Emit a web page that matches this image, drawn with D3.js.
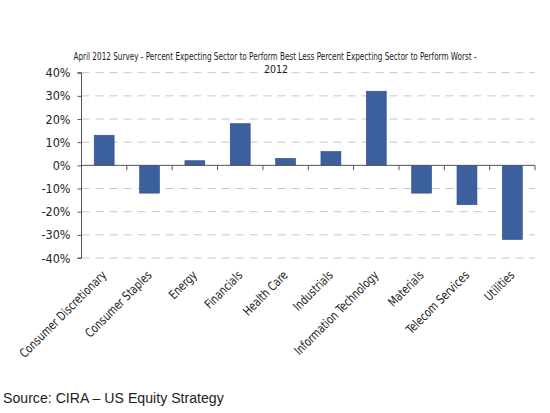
<!DOCTYPE html>
<html><head><meta charset="utf-8">
<script src="https://cdn.jsdelivr.net/npm/d3@7"></script>
<style>body{margin:0;background:#fff}</style>
</head><body>
<svg id="c" width="550" height="413"></svg>
<script>
const categories = ["Consumer Discretionary","Consumer Staples","Energy","Financials","Health Care","Industrials","Information Technology","Materials","Telecom Services","Utilities"];
const values = [0.13,-0.12,0.02,0.18,0.03,0.06,0.32,-0.12,-0.17,-0.32];
const yTicks = [-0.4,-0.3,-0.2,-0.1,0,0.1,0.2,0.3,0.4];
const titleLines = ["April 2012 Survey - Percent Expecting Sector to Perform Best Less Percent Expecting Sector to Perform Worst -","2012"];
const sourceText = "Source: CIRA \u2013 US Equity Strategy";

const svg = d3.select("#c");
const L = 81.5, R = 535, T = 72.7, B = 258;
const x = d3.scaleBand().domain(categories).range([L, R]).paddingInner(0.56).paddingOuter(0.28);
const xb = d3.scaleBand().domain(categories).range([L, R]);
const y = d3.scaleLinear().domain([-0.4, 0.4]).range([B, T]);
const narrow = "'Liberation Sans Narrow','Arial Narrow','DejaVu Sans Condensed',sans-serif";

// gridlines
svg.append("g").selectAll("line").data(yTicks.filter(d => d !== 0)).join("line")
  .attr("x1", L).attr("x2", R).attr("y1", d => y(d)).attr("y2", d => y(d))
  .attr("stroke", "#c8c8c8").attr("stroke-width", 1).attr("stroke-dasharray", "8,6");

// bars
svg.append("g").selectAll("rect").data(categories).join("rect")
  .attr("x", d => x(d)).attr("width", x.bandwidth())
  .attr("y", (d, i) => y(Math.max(0, values[i])))
  .attr("height", (d, i) => Math.abs(y(values[i]) - y(0)))
  .attr("fill", "#3c5f9e").attr("stroke", "#2f4f8a").attr("stroke-width", 0.6);

// y axis
const yAxis = d3.axisLeft(y).tickValues(yTicks).tickFormat(d3.format(".0%")).tickSize(4).tickPadding(7);
const ga = svg.append("g").attr("transform", `translate(${L},0)`).call(yAxis);
ga.select(".domain").attr("stroke", "#555").attr("d", `M-4,${T}H0V${B}H-4`);
ga.selectAll(".tick line").attr("stroke", "#555");
ga.selectAll(".tick text").attr("font-family", narrow).attr("font-size", 12.5).attr("fill", "#222")
  .text(d => d3.format(".0%")(d).replace("−", "-"));

// zero axis with ticks at band boundaries
const gx = svg.append("g").attr("transform", `translate(0,${y(0)})`);
gx.append("line").attr("x1", L).attr("x2", R).attr("stroke", "#555").attr("stroke-width", 1);
gx.selectAll("line.t").data(categories).join("line").attr("class", "t")
  .attr("x1", d => xb(d) + xb.bandwidth()).attr("x2", d => xb(d) + xb.bandwidth())
  .attr("y1", 0).attr("y2", 5).attr("stroke", "#555");

// category labels
svg.append("g").selectAll("text").data(categories).join("text")
  .attr("transform", d => `translate(${xb(d) + xb.bandwidth() / 2 + 3},${B + 18}) rotate(-45) scale(0.86,1)`)
  .attr("text-anchor", "end").attr("font-family", narrow).attr("font-size", 12.5).attr("fill", "#222")
  .text(d => d);

// title (horizontally compressed to fit like the condensed original)
const t1 = svg.append("text").attr("text-anchor", "middle")
  .attr("font-family", narrow).attr("font-size", 10.5).attr("fill", "#1a1a1a").attr("font-weight", 500)
  .text(titleLines[0]);
const w1 = t1.node().getComputedTextLength();
const s1 = Math.min(1, 404 / w1);
t1.attr("transform", `translate(275,60) scale(${s1},1)`);
svg.append("text").attr("x", 276).attr("y", 73).attr("text-anchor", "middle")
  .attr("font-family", narrow).attr("font-size", 10.5).attr("fill", "#1a1a1a").text(titleLines[1]);

// source
const st = svg.append("text")
  .attr("font-family", "'Liberation Sans',Arial,sans-serif").attr("font-size", 14.5).attr("fill", "#222")
  .text(sourceText);
const ws = st.node().getComputedTextLength();
st.attr("transform", `translate(3,403) scale(${221 / ws},1)`);
</script>
</body></html>
